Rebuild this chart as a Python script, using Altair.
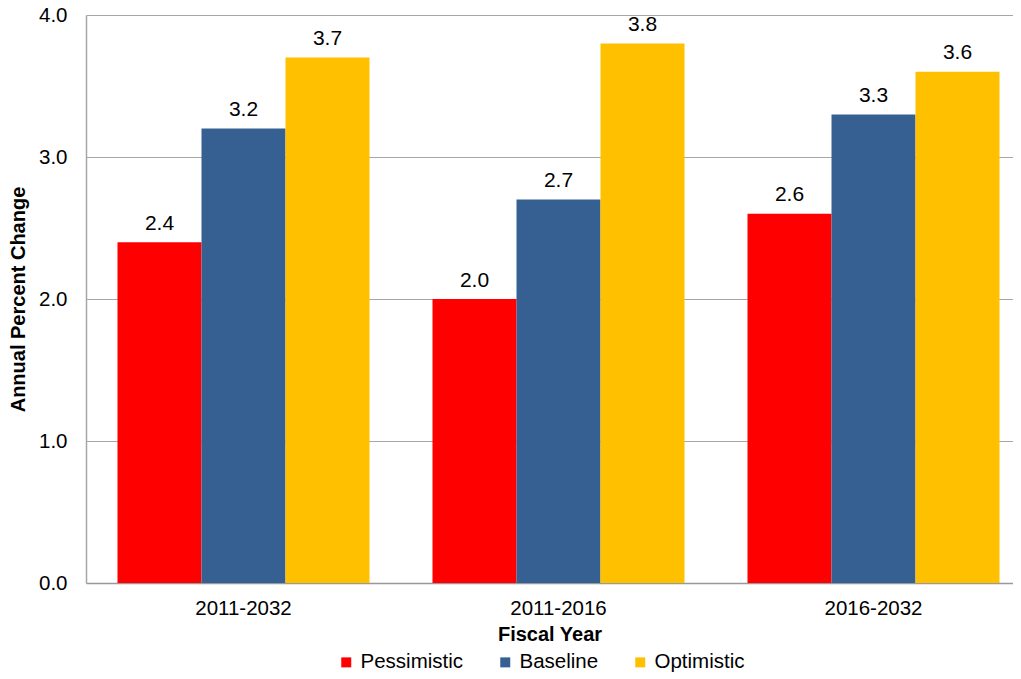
import altair as alt
import pandas as pd

periods = ["2011-2032", "2011-2016", "2016-2032"]
scenarios = ["Pessimistic", "Baseline", "Optimistic"]
pessimistic = [2.4, 2.0, 2.6]
baseline = [3.2, 2.7, 3.3]
optimistic = [3.7, 3.8, 3.6]
colors = ["#FF0000", "#376092", "#FFC000"]

rows = []
for i, p in enumerate(periods):
    for s, vals in zip(scenarios, [pessimistic, baseline, optimistic]):
        rows.append({"period": p, "scenario": s, "value": vals[i]})
df = pd.DataFrame(rows)

font = "Liberation Sans"

x = alt.X("period:N", sort=periods,
          scale=alt.Scale(paddingInner=0.2, paddingOuter=0.0714, align=0.7),
          axis=alt.Axis(title="Fiscal Year", labelAngle=0, labelFontSize=20.5,
                        labelFont=font, labelColor="#000", ticks=False,
                        domainColor="#999999", domainWidth=1.5,
                        labelPadding=15, titleFontSize=20, titleFont=font,
                        titleFontWeight="bold", titleColor="#000",
                        titlePadding=6))
y = alt.Y("value:Q", scale=alt.Scale(domain=[0, 4]),
          axis=alt.Axis(title="Annual Percent Change", values=[0, 1, 2, 3, 4],
                        format=".1f", labelFontSize=20.5, labelFont=font,
                        labelColor="#000", ticks=False, labelPadding=19,
                        domainColor="#A6A6A6", domainWidth=1.5,
                        gridColor="#A6A6A6", gridWidth=1.2,
                        titleFontSize=20, titleFont=font, titleFontWeight="bold",
                        titleColor="#000", titlePadding=10))

base = alt.Chart(df).encode(
    x=x,
    xOffset=alt.XOffset("scenario:N", sort=scenarios,
                        scale=alt.Scale(paddingInner=0, paddingOuter=0)),
    y=y,
)

bars = base.mark_bar().encode(
    color=alt.Color("scenario:N", sort=scenarios,
                    scale=alt.Scale(domain=scenarios, range=colors),
                    legend=alt.Legend(title=None, orient="none", direction="horizontal",
                                      legendX=250, legendY=637, symbolType="square",
                                      symbolSize=100, symbolStrokeWidth=0,
                                      labelFontSize=20.5, labelFont=font,
                                      labelColor="#000", columnPadding=31,
                                      labelOffset=4, padding=0, labelLimit=200))
)

labels = base.mark_text(baseline="alphabetic", dy=-12.5, fontSize=21, font=font,
                        color="#000").encode(text=alt.Text("value:Q", format=".1f"))

chart = (bars + labels).properties(
    width=927, height=568,
    autosize=alt.AutoSizeParams(type="none"),
    padding={"left": 78, "top": 7, "right": 0, "bottom": 90},
).configure_view(stroke=None)

chart.save("out.html", embed_options={"renderer": "svg", "actions": False})
